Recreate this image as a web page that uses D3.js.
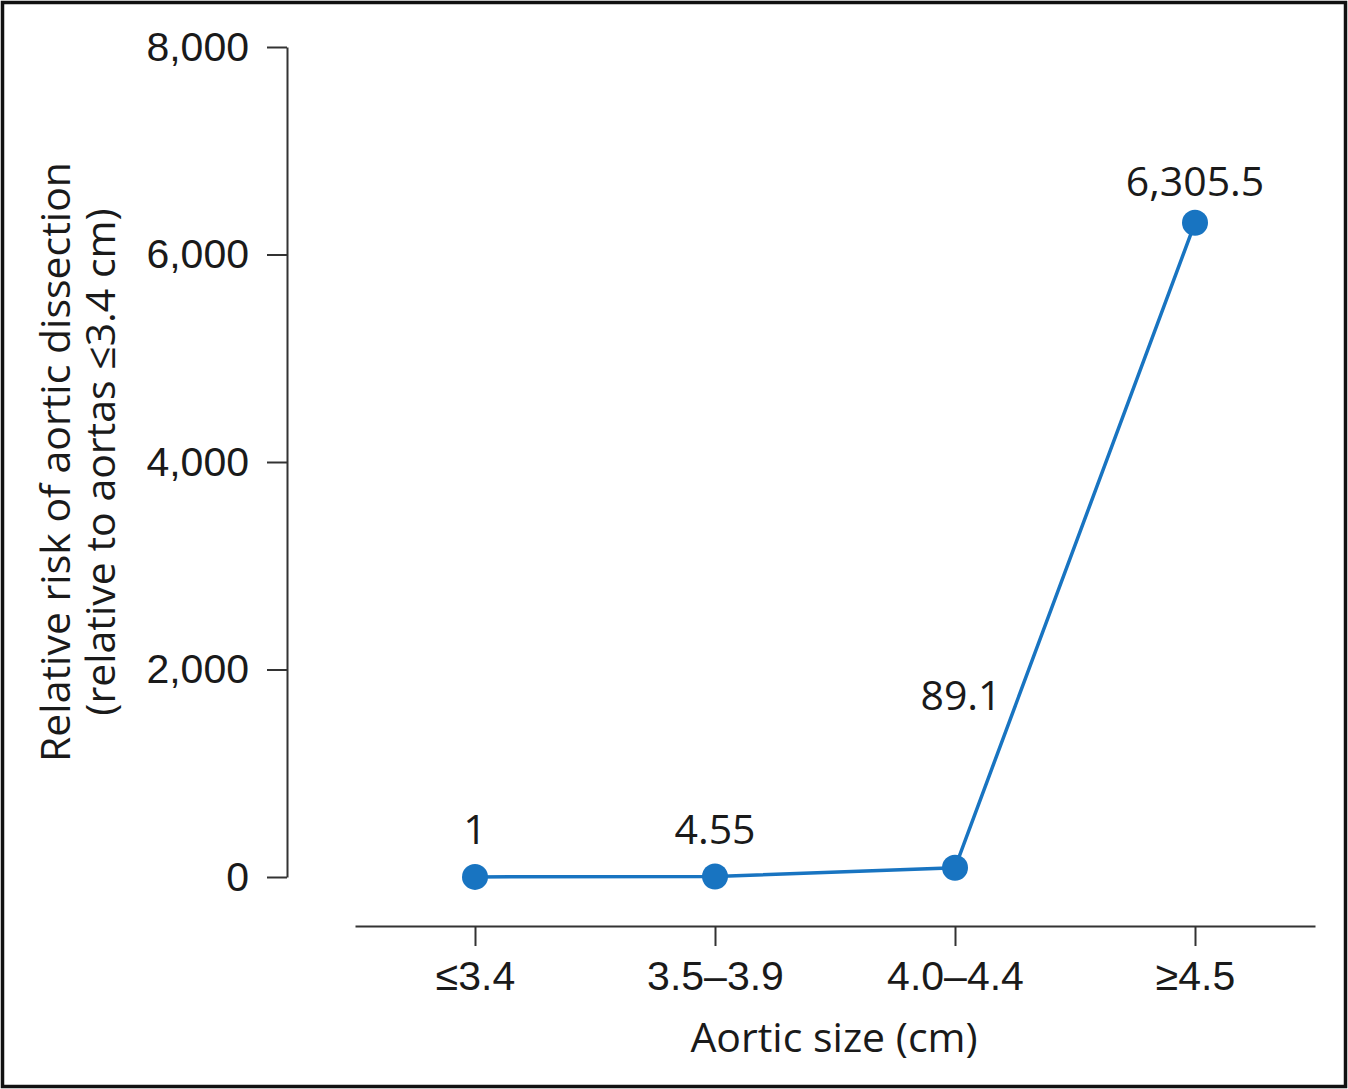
<!DOCTYPE html>
<html>
<head>
<meta charset="utf-8">
<script src="https://cdn.jsdelivr.net/npm/d3@7"></script>
<style>
    html, body { margin: 0; padding: 0; background: #fff; }
    svg { display: block; font-family: "Open Sans", "Noto Sans", sans-serif; }
    .axis path, .axis line { stroke: #333; stroke-width: 2; }
    .axis text { fill: #1a1a1a; font-size: 41px; }
</style>
</head>
<body>
<svg id="chart"></svg>
<script>
// chart values
var categories = ["\u22643.4", "3.5\u20133.9", "4.0\u20134.4", "\u22654.5"];
var riskValues = [1, 4.55, 89.1, 6305.5];
var riskLabels = ["1", "4.55", "89.1", "6,305.5"];
var yTicks = [0, 2000, 4000, 6000, 8000];

// label lift above each point (px), 89.1 sits higher so it clears the line
var labelLift = [47, 47, 172, 41];

var W = 1348, H = 1089;
var svg = d3.select("#chart")
    .attr("width", W)
    .attr("height", H);

// outer frame
svg.append("rect")
    .attr("x", 2.5).attr("y", 2.5)
    .attr("width", W - 5).attr("height", H - 5)
    .attr("fill", "none")
    .attr("stroke", "#111")
    .attr("stroke-width", 3.5);

var x = d3.scalePoint()
    .domain(categories)
    .range([355, 1315])
    .padding(0.5);

var y = d3.scaleLinear()
    .domain([0, 8000])
    .range([877, 47]);

var yAxis = d3.axisLeft(y)
    .tickValues(yTicks)
    .tickSize(20)
    .tickSizeOuter(0)
    .tickPadding(18)
    .tickFormat(d3.format(","));

svg.append("g")
    .attr("class", "axis y")
    .attr("transform", "translate(287,0)")
    .call(yAxis);

var xAxis = d3.axisBottom(x)
    .tickSize(20)
    .tickSizeOuter(0)
    .tickPadding(15);

svg.append("g")
    .attr("class", "axis x")
    .attr("transform", "translate(0,926)")
    .call(xAxis);

// axis titles
svg.append("text")
    .attr("x", 834)
    .attr("y", 1052)
    .attr("text-anchor", "middle")
    .attr("font-size", 41)
    .attr("fill", "#1a1a1a")
    .text("Aortic size (cm)");

var yTitle = svg.append("text")
    .attr("transform", "translate(0,462) rotate(-90)")
    .attr("text-anchor", "middle")
    .attr("font-size", 41)
    .attr("fill", "#1a1a1a");
yTitle.append("tspan").attr("x", 0).attr("y", 70).text("Relative risk of aortic dissection");
yTitle.append("tspan").attr("x", 0).attr("y", 115).text("(relative to aortas \u22643.4 cm)");

// line + points
var pts = categories.map(function (c, i) {
    return {cat: c, value: riskValues[i], label: riskLabels[i], lift: labelLift[i]};
});

var line = d3.line()
    .x(function (d) { return x(d.cat); })
    .y(function (d) { return y(d.value); });

svg.append("path")
    .datum(pts)
    .attr("d", line)
    .attr("fill", "none")
    .attr("stroke", "#1874c1")
    .attr("stroke-width", 3.5);

svg.selectAll(".dot")
    .data(pts)
    .enter()
    .append("circle")
    .attr("class", "dot")
    .attr("cx", function (d) { return x(d.cat); })
    .attr("cy", function (d) { return y(d.value); })
    .attr("r", 13)
    .attr("fill", "#1874c1");

svg.selectAll(".label")
    .data(pts)
    .enter()
    .append("text")
    .attr("class", "label")
    .attr("x", function (d, i) { return x(d.cat) + (i === 2 ? 6 : 0); })
    .attr("y", function (d) { return y(d.value) - d.lift; })
    .attr("dy", "0.35em")
    .attr("text-anchor", "middle")
    .attr("font-size", 41)
    .attr("fill", "#1a1a1a")
    .text(function (d) { return d.label; });
</script>
</body>
</html>
